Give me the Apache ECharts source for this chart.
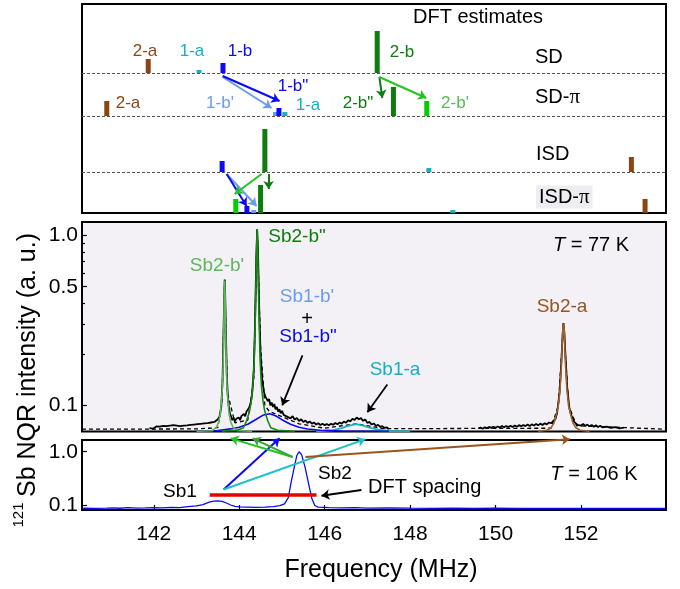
<!DOCTYPE html>
<html>
<head>
<meta charset="utf-8">
<script src="https://cdn.jsdelivr.net/npm/echarts@6/dist/echarts.min.js"></script>
<style>
  html, body { margin: 0; padding: 0; background: #fff; }
  #chart { width: 680px; height: 589px; }
</style>
</head>
<body>
<div id="chart"></div>
<script>
// ---- DFT estimates (site name, frequency MHz, bar height) ----
var sdBars = [['2-a', 141.87, 14], ['1-a', 143.06, 3], ['1-b', 143.62, 10], ['2-b', 147.23, 42]];
var sdPiBars = [['2-a', 140.90, 15], ["1-b'", 144.85, 4], ['1-b"', 144.93, 8], ['1-a', 145.07, 4], ['2-b"', 147.61, 29], ["2-b'", 148.39, 15]];
var isdBars = [['1-b', 143.60, 11], ['2-b', 144.60, 43], ['1-a', 148.44, 4], ['2-a', 153.18, 15]];
var isdPiBars = [["2-b'", 143.92, 14], ['1-b"', 144.18, 7], ["1-b'", 144.34, 3], ['2-b"', 144.50, 28], ['1-a', 149.00, 3], ['2-a', 153.50, 14]];
var rowNames = ['SD', 'SD-π', 'ISD', 'ISD-π'];

// ---- 77 K spectrum ----
var data77 = [
  [141.90,0.0735],[141.94,0.0748],[141.98,0.0730],[142.02,0.0744],[142.06,0.0752],[142.10,0.0736],[142.14,0.0750],
  [142.18,0.0742],[142.22,0.0758],[142.26,0.0744],[142.30,0.0756],[142.34,0.0748],[142.38,0.0762],[142.42,0.0750],
  [142.46,0.0766],[142.50,0.0754],[142.54,0.0762],[142.58,0.0772],[142.62,0.0756],[142.66,0.0770],[142.70,0.0762],
  [142.74,0.0776],[142.78,0.0764],[142.82,0.0780],[142.86,0.0768],[142.90,0.0784],[142.94,0.0772],[142.98,0.0788],
  [143.02,0.0776],[143.06,0.0792],[143.10,0.0780],[143.14,0.0796],[143.18,0.0784],[143.22,0.0800],[143.26,0.0788],
  [143.30,0.0806],[143.34,0.0794],[143.38,0.0812],[143.42,0.0800],[143.46,0.0818],[143.50,0.0830],[143.54,0.086],
  [143.58,0.098],[143.61,0.14],[143.63,0.25],[143.65,0.45],[143.66,0.55],[143.67,0.47],[143.69,0.26],[143.71,0.15],
  [143.74,0.105],[143.78,0.090],[143.81,0.086],[143.84,0.082],[143.87,0.0845],[143.90,0.0805],[143.93,0.0835],
  [143.96,0.0815],[143.99,0.085],[144.02,0.0820],[144.05,0.0865],[144.08,0.0845],[144.11,0.089],[144.14,0.0865],
  [144.17,0.092],[144.20,0.090],[144.23,0.097],[144.26,0.101],[144.30,0.115],[144.34,0.16],[144.37,0.3],
  [144.40,0.75],[144.42,1.08],[144.44,0.8],[144.47,0.35],[144.50,0.2],[144.54,0.14],[144.58,0.12],[144.61,0.113],
  [144.64,0.116],[144.67,0.106],[144.70,0.109],[144.73,0.100],[144.76,0.104],[144.79,0.098],[144.82,0.102],
  [144.85,0.095],[144.88,0.098],[144.91,0.092],[144.94,0.095],[144.97,0.090],[145.00,0.093],[145.04,0.088],
  [145.08,0.090],[145.12,0.086],[145.16,0.088],[145.20,0.084],[145.25,0.0865],[145.30,0.0825],[145.35,0.0845],
  [145.40,0.0810],[145.45,0.0830],[145.50,0.0800],[145.55,0.0815],[145.60,0.0790],[145.65,0.0805],[145.70,0.0782],
  [145.75,0.0795],[145.80,0.0772],[145.85,0.0786],[145.90,0.0768],[145.95,0.0780],[146.00,0.0766],[146.05,0.0778],
  [146.10,0.0764],[146.15,0.0780],[146.20,0.0770],[146.25,0.0788],[146.30,0.0776],[146.35,0.0794],[146.40,0.0782],
  [146.45,0.0804],[146.50,0.0792],[146.55,0.0818],[146.60,0.0806],[146.65,0.0836],[146.70,0.0822],[146.75,0.0850],
  [146.80,0.0830],[146.85,0.0842],[146.90,0.0812],[146.95,0.0826],[147.00,0.0790],[147.05,0.0800],[147.10,0.0772],
  [147.15,0.0784],[147.20,0.0758],[147.25,0.0770],[147.30,0.0748],[147.35,0.0756],[147.40,0.0738],[147.45,0.0744],
  [147.50,0.0728],
  null,
  [149.60,0.0732],[149.65,0.0742],[149.70,0.0730],[149.75,0.0744],[149.80,0.0736],[149.85,0.0748],[149.90,0.0738],
  [149.95,0.0750],[150.00,0.0740],[150.05,0.0752],[150.10,0.0742],[150.15,0.0756],[150.20,0.0744],[150.25,0.0758],
  [150.30,0.0746],[150.35,0.0760],[150.40,0.0748],[150.45,0.0762],[150.50,0.0750],[150.55,0.0766],[150.60,0.0754],
  [150.65,0.0768],[150.70,0.0756],[150.75,0.0772],[150.80,0.0758],[150.85,0.0774],[150.90,0.0762],[150.95,0.0778],
  [151.00,0.0764],[151.05,0.0782],[151.10,0.0768],[151.15,0.0786],[151.20,0.0774],[151.25,0.0794],[151.30,0.0786],
  [151.35,0.0810],[151.40,0.0830],[151.44,0.090],[151.50,0.12],[151.54,0.18],[151.57,0.26],[151.59,0.305],
  [151.61,0.27],[151.64,0.19],[151.68,0.125],[151.73,0.096],[151.77,0.088],[151.80,0.0845],[151.84,0.0800],
  [151.88,0.0790],[151.92,0.0768],[151.96,0.0782],[152.00,0.0762],[152.05,0.0778],[152.10,0.0758],[152.15,0.0772],
  [152.20,0.0754],[152.25,0.0768],[152.30,0.0750],[152.35,0.0764],[152.40,0.0748],[152.45,0.0760],[152.50,0.0744],
  [152.60,0.0752],[152.70,0.0738],[152.80,0.0746],[152.90,0.0734],[153.00,0.0740]
];
var fit77 = [
  [140.32,0.0725],[143.0,0.0728],[143.5,0.074],[143.6,0.11],[143.66,0.55],[143.72,0.12],[143.9,0.079],
  [144.2,0.082],[144.34,0.14],[144.42,1.08],[144.5,0.22],[144.6,0.1],[144.71,0.092],[145.0,0.086],
  [145.4,0.078],[146.0,0.0735],[146.74,0.078],[147.4,0.073],[151.3,0.0735],[151.47,0.1],[151.59,0.303],
  [151.71,0.1],[151.9,0.076],[153.99,0.0725]
];
var sb2bPrime = [
  [143.0,0.0705],[143.36,0.071],[143.46,0.074],[143.52,0.08],[143.56,0.09],[143.6,0.12],[143.62,0.16],
  [143.64,0.3],[143.65,0.45],[143.66,0.543],[143.67,0.45],[143.68,0.3],[143.7,0.16],[143.72,0.12],
  [143.76,0.09],[143.8,0.08],[143.86,0.074],[143.96,0.071],[144.3,0.0705]
];
var sb2bDouble = [
  [143.6,0.0705],[143.95,0.0715],[144.1,0.074],[144.17,0.081],[144.24,0.092],[144.28,0.105],[144.32,0.13],
  [144.35,0.18],[144.37,0.28],[144.39,0.5],[144.405,0.8],[144.42,1.08],[144.435,0.8],[144.45,0.5],
  [144.47,0.28],[144.49,0.18],[144.52,0.13],[144.56,0.105],[144.6,0.092],[144.67,0.081],[144.74,0.074],
  [144.9,0.0715],[145.3,0.0705]
];
var sb1b = [
  [143.0,0.0705],[143.5,0.0712],[143.8,0.0728],[144.0,0.0745],[144.2,0.0775],[144.4,0.083],[144.55,0.0875],
  [144.71,0.0894],[144.85,0.087],[145.0,0.0825],[145.2,0.0775],[145.4,0.0745],[145.6,0.0727],[145.9,0.0715],
  [146.4,0.0708],[147.5,0.0705]
];
var sb1a = [
  [145.8,0.0705],[146.2,0.0715],[146.4,0.0735],[146.55,0.0758],[146.74,0.0776],[146.9,0.0762],[147.05,0.074],
  [147.25,0.072],[147.5,0.0708],[148.0,0.0705]
];
var sb2a = [
  [151.0,0.0705],[151.2,0.0715],[151.3,0.074],[151.37,0.079],[151.42,0.088],[151.47,0.1],[151.51,0.125],
  [151.54,0.17],[151.56,0.23],[151.575,0.28],[151.59,0.303],[151.605,0.28],[151.62,0.23],[151.64,0.17],
  [151.67,0.125],[151.71,0.1],[151.76,0.088],[151.81,0.079],[151.88,0.074],[151.98,0.0715],[152.2,0.0705]
];

// ---- 106 K spectrum ----
var data106 = [
  [140.35,0.087],[140.6,0.0865],[140.9,0.0875],[141.05,0.0885],[141.2,0.087],[141.4,0.089],[141.6,0.0875],
  [141.8,0.088],[142.0,0.0895],[142.2,0.0885],[142.4,0.09],[142.6,0.0895],[142.8,0.093],[143.0,0.096],
  [143.15,0.102],[143.3,0.113],[143.4,0.118],[143.5,0.12],[143.6,0.117],[143.7,0.109],[143.8,0.1],
  [143.9,0.094],[144.0,0.092],[144.2,0.091],[144.4,0.09],[144.6,0.091],[144.8,0.093],[144.95,0.097],
  [145.06,0.105],[145.15,0.138],[145.22,0.28],[145.29,0.52],[145.35,0.85],[145.4,1.0],[145.46,0.88],
  [145.54,0.52],[145.62,0.26],[145.7,0.133],[145.77,0.098],[145.85,0.091],[146.1,0.0895],[146.4,0.088],
  [146.7,0.089],[147.0,0.0875],[147.5,0.0885],[148.0,0.0875],[148.5,0.0868],[149.0,0.0872],[149.5,0.0865],
  [150.0,0.087],[150.5,0.0866],[151.0,0.0868],[151.5,0.0865],[152.0,0.0867],[152.5,0.0864],[153.0,0.0866],
  [153.5,0.0865],[153.99,0.0865]
];
var dftSpacing = [[143.31, 0.154], [145.81, 0.154]];

var X_MIN = 140.32, X_MAX = 153.99;
var FONT = 'Liberation Sans, Arial, Helvetica, sans-serif';
var C = {
  brown: '#8b4513', cyan: '#1aafc0', blue: '#0a0af5', lblue: '#6b9cec',
  dgreen: '#0e7d0e', bgreen: '#00cc00', lgreen: '#5cb85c', agreen: '#22c422', red: '#e60000'
};
var siteColor = { '2-a': C.brown, '1-a': C.cyan, '1-b': C.blue, "1-b'": C.lblue, '1-b"': C.blue,
  '2-b': C.dgreen, '2-b"': C.dgreen, "2-b'": C.bgreen };

// stack the four rows in one frame
var rowBase = [140, 97, 41, 0];
var barItems = [], barNames = [];
[sdBars, sdPiBars, isdBars, isdPiBars].forEach(function (row, i) {
  row.forEach(function (b) { barItems.push([b[1], rowBase[i], b[2]]); barNames.push(b[0]); });
});

var topArrows = [
  [[143.612, 136], [144.757, 105], C.lblue],
  [[143.612, 137], [144.944, 112], C.blue],
  [[147.28, 136], [147.35, 115], C.dgreen],
  [[147.28, 136], [148.379, 115], C.agreen],
  [[143.706, 39], [144.407, 7], C.lblue],
  [[143.706, 39], [144.173, 7], C.blue],
  [[144.523, 39], [143.893, 19], C.agreen],
  [[144.687, 39], [144.687, 24], C.dgreen]
];
var midArrows = [
  [[145.48, 0.197], [145.007, 0.1], '#000'],
  [[147.467, 0.1329], [147.0, 0.0913], '#000']
];
var botArrows = [
  [[146.86, 0.191], [145.925, 0.1494], '#000'],
  [[143.636, 0.1954], [144.944, 1.78], C.blue],
  [[143.636, 0.1954], [146.953, 1.72], '#1cc0c8'],
  [[145.248, 0.796], [143.8, 1.78], C.agreen],
  [[145.248, 0.796], [144.313, 1.78], '#3aa63a'],
  [[145.55, 0.796], [151.74, 1.72], '#9a5420']
];

function arrowData(list) {
  return list.map(function (a) { return { coords: [a[0], a[1]], lineStyle: { color: a[2] } }; });
}
function arrowSeries(list, xi, yi, width) {
  return {
    type: 'lines', coordinateSystem: 'cartesian2d', xAxisIndex: xi, yAxisIndex: yi,
    clip: false, silent: true, symbol: ['none', 'arrow'], symbolSize: 8,
    lineStyle: { width: width || 2, opacity: 1, curveness: 0 },
    data: arrowData(list), z: 20
  };
}
function logLabel(v) {
  if (Math.abs(v - 0.1) < 1e-6) return '0.1';
  if (Math.abs(v - 1) < 1e-6) return '1.0';
  return '';
}
function xAxisHidden(gi) {
  return { type: 'value', gridIndex: gi, min: X_MIN, max: X_MAX, show: false };
}
function compLine(data, color, xi, yi, w) {
  return { type: 'line', xAxisIndex: xi, yAxisIndex: yi, data: data, showSymbol: false, silent: true,
    lineStyle: { color: color, width: w || 1.6 }, z: 5 };
}

var minorTicks = [0.2, 0.3, 0.4, 0.6, 0.7, 0.8, 0.9].map(function (v) {
  return [{ coord: [X_MIN, v] }, { coord: [X_MIN + 0.07, v] }];
});
minorTicks.push([{ coord: [X_MIN, 0.5] }, { coord: [X_MIN + 0.12, 0.5] }]);

function txt(text, x, y, color, size, align, extra) {
  var s = { text: text, fill: color || '#000', fontSize: size || 20, fontFamily: FONT,
    align: align || 'center', verticalAlign: 'middle' };
  if (extra) for (var k in extra) s[k] = extra[k];
  return { type: 'text', x: x, y: y, z: 100, silent: true, style: s };
}
var richT = { i: { fontStyle: 'italic', fontSize: 20, fontFamily: FONT, fill: '#000' } };
var richPi = { p: { fontFamily: 'Liberation Serif, DejaVu Serif, serif', fontSize: 21, fill: '#000' } };

var graphics = [
  txt('DFT estimates', 478, 17, '#000', 20),
  txt('2-a', 145, 51, C.brown, 17), txt('1-a', 192, 51, C.cyan, 17), txt('1-b', 240, 51, C.blue, 17),
  txt('2-b', 402, 52, C.dgreen, 17),
  txt('2-a', 128, 103, C.brown, 17), txt("1-b'", 220, 103, C.lblue, 17), txt('1-b"', 293, 86, C.blue, 17),
  txt('1-a', 308, 105, C.cyan, 17), txt('2-b"', 358, 103, C.dgreen, 17), txt("2-b'", 455, 103, C.lgreen, 17),
  txt('SD', 535, 57, '#000', 20, 'left'),
  txt('SD-{p|π}', 535, 97, '#000', 20, 'left', { rich: richPi }),
  txt('ISD', 536, 154, '#000', 20, 'left'),
  txt('ISD-{p|π}', 536, 197, '#000', 20, 'left', { rich: richPi, backgroundColor: '#eeedf1', padding: [1, 3, 1, 3] }),
  txt("Sb2-b'", 217, 266, C.lgreen, 19), txt('Sb2-b"', 297, 237, C.dgreen, 19),
  txt("Sb1-b'", 307, 297, C.lblue, 19), txt('+', 307, 319, '#000', 20), txt('Sb1-b"', 308, 337, C.blue, 19),
  txt('Sb1-a', 395, 370, C.cyan, 19), txt('Sb2-a', 562, 307, '#9a5420', 19),
  txt('{i|T} = 77 K', 591, 245, '#000', 20, 'center', { rich: richT }),
  txt('0.5', 78, 287, '#000', 21, 'right'),
  txt('Sb1', 180, 492, '#000', 19), txt('Sb2', 335, 474, '#000', 19),
  txt('DFT spacing', 368, 487, '#000', 20, 'left'),
  txt('{i|T} = 106 K', 594, 474, '#000', 20, 'center', { rich: richT }),
  txt('Frequency (MHz)', 381, 570, '#000', 25),
  { type: 'text', x: 28, y: 365, rotation: Math.PI / 2, z: 100, silent: true,
    style: { text: 'Sb NQR intensity (a. u.)', fill: '#000', fontSize: 25, fontFamily: FONT, align: 'center', verticalAlign: 'middle' } },
  { type: 'text', x: 19, y: 515, rotation: Math.PI / 2, z: 100, silent: true,
    style: { text: '121', fill: '#000', fontSize: 15, fontFamily: FONT, align: 'center', verticalAlign: 'middle' } }
];

var chart = echarts.init(document.getElementById('chart'), null, { renderer: 'canvas' });
chart.setOption({
  backgroundColor: '#fff',
  animation: false,
  textStyle: { fontFamily: FONT },
  grid: [
    { left: 82, right: 14, top: 4, height: 209, show: true, borderColor: '#000', borderWidth: 2, backgroundColor: '#fff' },
    { left: 82, right: 14, top: 222, height: 209.5, show: true, borderColor: '#000', borderWidth: 2, backgroundColor: '#f3f1f5' },
    { left: 82, right: 14, top: 440, height: 70, show: true, borderColor: '#000', borderWidth: 2, backgroundColor: '#fff' }
  ],
  xAxis: [
    xAxisHidden(0), xAxisHidden(1),
    {
      type: 'value', gridIndex: 2, min: X_MIN, max: X_MAX, splitNumber: 7,
      axisLine: { show: false },
      axisTick: { show: true, inside: true, length: 5, lineStyle: { color: '#000', width: 1.2 } },
      axisLabel: { fontSize: 21, color: '#000', fontFamily: FONT, margin: 14, showMinLabel: false, showMaxLabel: false,
        formatter: function (v) { return Math.abs(v - Math.round(v)) < 1e-6 ? String(Math.round(v)) : ''; } },
      splitLine: { show: false }
    }
  ],
  yAxis: [
    { type: 'value', gridIndex: 0, min: 0, max: 209, show: false },
    {
      type: 'log', gridIndex: 1, min: 0.0703, max: 1.197, logBase: 10,
      axisLine: { show: false },
      axisTick: { show: true, inside: true, length: 5, lineStyle: { color: '#000', width: 1.2 } },
      axisLabel: { fontSize: 21, color: '#000', fontFamily: FONT, margin: 4, showMinLabel: false, showMaxLabel: false, formatter: logLabel },
      splitLine: { show: false }
    },
    {
      type: 'log', gridIndex: 2, min: 0.0806, max: 1.658, logBase: 10,
      axisLine: { show: false },
      axisTick: { show: true, inside: true, length: 5, lineStyle: { color: '#000', width: 1.2 } },
      axisLabel: { fontSize: 21, color: '#000', fontFamily: FONT, margin: 4, showMinLabel: false, showMaxLabel: false, formatter: logLabel },
      splitLine: { show: false }
    }
  ],
  series: [
    // top: row separators
    {
      type: 'line', xAxisIndex: 0, yAxisIndex: 0, data: [], silent: true,
      markLine: { silent: true, symbol: ['none', 'none'], label: { show: false },
        lineStyle: { type: [3, 2], color: '#555', width: 1 },
        data: [{ yAxis: rowBase[0] }, { yAxis: rowBase[1] }, { yAxis: rowBase[2] }] }
    },
    {
      type: 'custom', xAxisIndex: 0, yAxisIndex: 0, data: barItems, silent: true, z: 10,
      renderItem: function (params, api) {
        var f = api.value(0), b = api.value(1), h = api.value(2);
        var p0 = api.coord([f, b]), p1 = api.coord([f, b + h]);
        return { type: 'rect', shape: { x: p0[0] - 2.5, y: p1[1], width: 5, height: p0[1] - p1[1] },
          style: { fill: siteColor[barNames[params.dataIndex]] } };
      }
    },
    arrowSeries(topArrows, 0, 0, 2),
    // middle: 77 K
    {
      type: 'line', xAxisIndex: 1, yAxisIndex: 1, data: fit77, showSymbol: false, silent: true, z: 3,
      lineStyle: { color: '#000', width: 1.3, type: [4, 3] },
      markLine: { silent: true, symbol: ['none', 'none'], label: { show: false },
        lineStyle: { type: 'solid', color: '#000', width: 1.2 }, data: minorTicks }
    },
    {
      type: 'line', xAxisIndex: 1, yAxisIndex: 1, data: data77, showSymbol: false, silent: true, z: 4,
      connectNulls: false, lineStyle: { color: '#000', width: 1.8 }
    },
    compLine(sb1a, C.cyan, 1, 1, 1.8),
    compLine(sb1b, C.blue, 1, 1, 1.6),
    compLine(sb2bPrime, C.lgreen, 1, 1, 1.6),
    compLine(sb2bDouble, '#128a12', 1, 1, 1.6),
    compLine(sb2a, '#a0622c', 1, 1, 1.6),
    arrowSeries(midArrows, 1, 1, 1.8),
    // bottom: 106 K
    compLine(data106, C.blue, 2, 2, 1.3),
    {
      type: 'line', xAxisIndex: 2, yAxisIndex: 2, data: dftSpacing, showSymbol: false, silent: true, z: 8,
      lineStyle: { color: C.red, width: 3.5 }
    },
    arrowSeries(botArrows, 2, 2, 2)
  ],
  graphic: graphics
});
</script>
</body>
</html>
